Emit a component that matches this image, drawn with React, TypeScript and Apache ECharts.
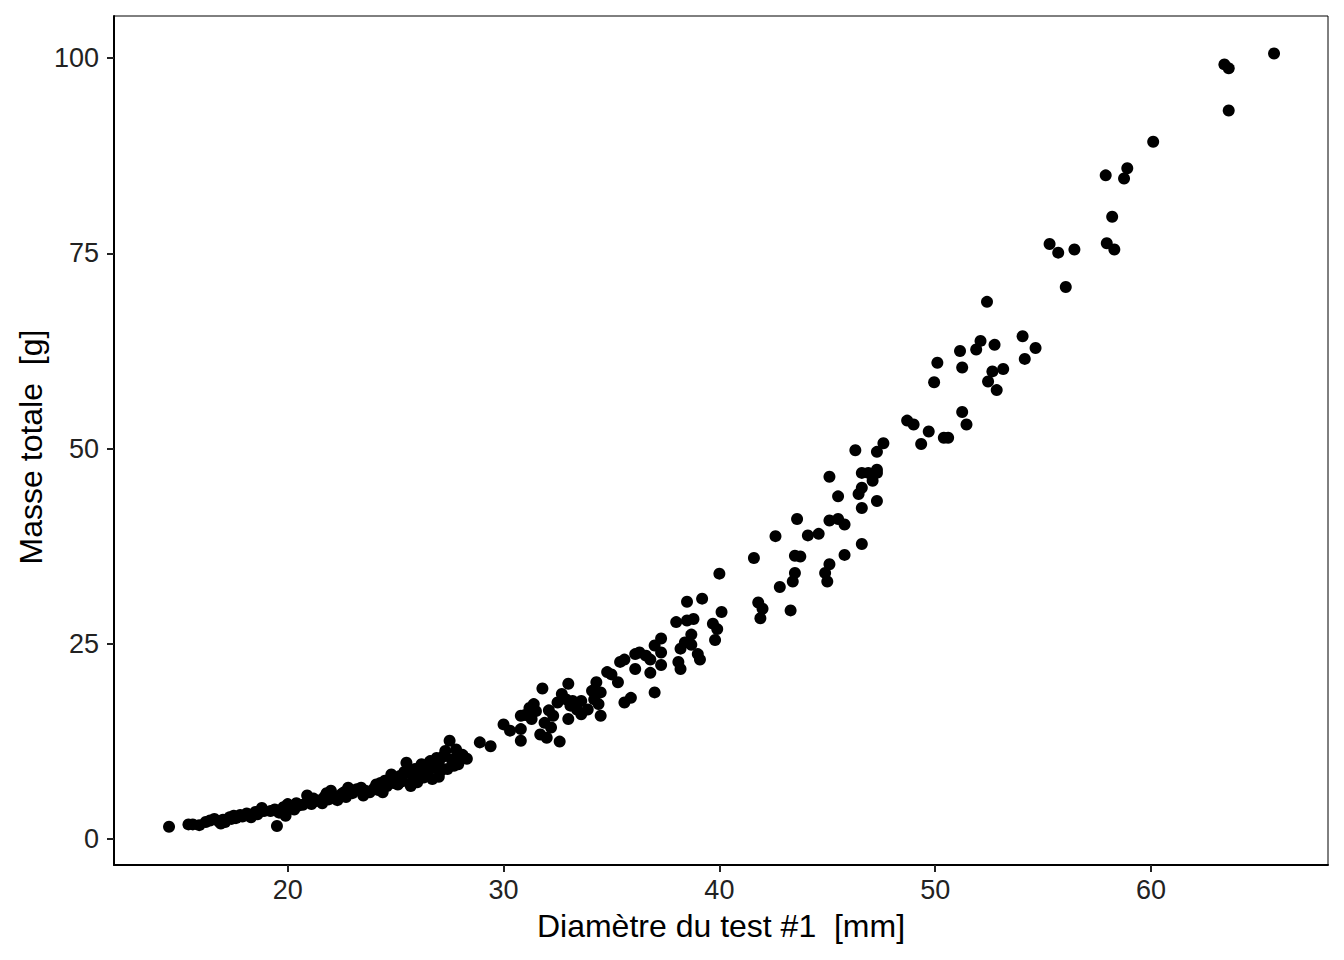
import React, { useEffect, useRef } from "react";
import * as echarts from "echarts";

// Diamètre du test #1 [mm], Masse totale [g]
const smallUrchins: [number, number][] = [
  [14.5, 1.6], [15.4, 1.9], [15.6, 1.9], [15.9, 1.8], [16.2, 2.2], [16.4, 2.4], [16.6, 2.6],
  [16.8, 2.3], [16.9, 2.0], [17.0, 2.5], [17.1, 2.2], [17.3, 2.8], [17.4, 2.6], [17.5, 3.0],
  [17.6, 2.7], [17.8, 3.1], [17.9, 2.9], [18.1, 3.3], [18.2, 3.0], [18.3, 2.8], [18.5, 3.5],
  [18.6, 3.2], [18.8, 4.0], [18.9, 3.6], [19.2, 3.6], [19.4, 3.8], [19.5, 1.7], [19.6, 3.4],
  [19.8, 4.1], [19.9, 3.0], [20.0, 4.5], [20.1, 4.2], [20.3, 3.8], [20.4, 4.6], [20.5, 4.3],
];

const mediumUrchins: [number, number][] = [
  [20.7, 4.4], [20.9, 5.6], [21.0, 4.8], [21.1, 4.5], [21.2, 5.2], [21.3, 4.9], [21.5, 5.0],
  [21.6, 4.6], [21.7, 5.4], [21.8, 5.9], [21.9, 5.1], [22.0, 6.2], [22.1, 5.6], [22.2, 5.3],
  [22.3, 5.0], [22.5, 5.8], [22.6, 6.0], [22.7, 5.4], [22.8, 6.6], [22.9, 6.3], [23.0, 5.9],
  [23.2, 6.4], [23.4, 6.6], [23.5, 5.6], [23.6, 6.2], [23.8, 6.0], [24.0, 6.5], [24.1, 7.0],
  [24.2, 6.3], [24.3, 7.2], [24.4, 6.0], [24.5, 7.5], [24.6, 6.8], [24.8, 8.3], [24.9, 7.2],
  [25.0, 7.8], [25.1, 7.0], [25.2, 8.1], [25.3, 7.4], [25.4, 8.6], [25.5, 9.8], [25.6, 8.5],
  [25.7, 6.8], [25.8, 7.6], [25.9, 9.0], [26.0, 8.2], [26.0, 7.3], [26.1, 8.8], [26.2, 9.6],
  [26.3, 7.9], [26.4, 9.4], [26.5, 8.6], [26.6, 10.0], [26.7, 7.7], [26.8, 9.2], [26.9, 10.4],
  [27.0, 9.8], [27.0, 8.0], [27.1, 8.8], [27.2, 10.6], [27.3, 11.3], [27.4, 9.0], [27.5, 12.6],
  [27.6, 10.2], [27.7, 9.4], [27.8, 11.5], [27.9, 9.6], [28.0, 10.5], [28.1, 10.8], [28.3, 10.3],
  [28.9, 12.4], [29.4, 11.9],
];

const largeUrchins: [number, number][] = [
  [30.0, 14.7], [30.3, 13.9], [30.8, 15.8], [31.0, 15.9], [30.8, 14.1], [30.8, 12.6], [31.2, 16.8],
  [31.4, 17.3], [31.5, 16.4], [31.3, 15.4], [31.7, 13.4], [31.9, 14.9], [32.0, 13.0], [32.2, 14.3],
  [32.1, 16.5], [32.3, 15.8], [31.8, 19.3], [32.6, 12.5], [32.5, 17.5], [32.7, 18.6], [32.9, 17.9],
  [33.0, 19.9], [33.0, 15.4], [33.1, 17.1], [33.2, 17.7], [33.4, 16.6], [33.6, 17.7], [33.6, 16.0],
  [33.9, 16.6], [34.1, 19.0], [34.2, 17.9], [34.3, 20.1], [34.4, 17.3], [34.5, 18.8], [34.5, 15.8],
  [34.8, 21.4], [35.0, 21.1], [35.3, 20.1], [35.4, 22.7], [35.6, 23.0], [35.6, 17.5], [35.9, 18.1],
  [36.1, 21.8], [36.1, 23.7], [36.3, 23.9], [36.6, 23.5], [36.8, 23.0], [36.8, 21.3], [37.0, 24.8],
  [37.0, 18.8], [37.3, 23.9], [37.3, 25.7], [37.3, 22.3], [38.0, 27.8], [38.1, 22.7], [38.2, 24.4],
  [38.2, 21.8], [38.4, 25.2], [38.5, 28.0], [38.5, 30.4], [38.7, 26.2], [38.7, 24.9], [38.8, 28.2],
  [39.0, 23.7], [39.1, 23.0], [39.2, 30.8], [39.7, 27.6], [39.8, 25.5], [39.9, 26.9], [40.0, 34.0],
  [40.1, 29.1],
];

const veryLargeUrchins: [number, number][] = [
  [41.6, 36.0], [41.8, 30.3], [42.0, 29.5], [41.9, 28.3], [42.6, 38.8], [42.8, 32.3], [43.3, 29.3],
  [43.4, 33.0], [43.5, 34.1], [43.5, 36.3], [43.75, 36.2], [43.6, 41.0], [44.1, 38.9], [44.6, 39.1],
  [44.9, 34.1], [45.0, 33.0], [45.1, 35.2], [45.1, 40.8], [45.1, 46.4], [45.5, 41.0], [45.5, 43.9],
  [45.8, 40.3], [45.8, 36.4], [46.3, 49.8], [46.45, 44.2], [46.6, 45.0], [46.6, 46.9], [46.6, 42.4],
  [46.6, 37.8], [46.9, 46.9], [47.1, 45.9], [47.3, 47.3], [47.3, 49.6], [47.3, 46.9], [47.3, 43.3],
  [47.6, 50.7],
  [48.7, 53.6], [49.0, 53.1], [49.35, 50.6], [49.7, 52.2], [49.95, 58.5], [50.1, 61.0], [50.4, 51.4],
  [50.6, 51.4], [51.15, 62.5], [51.25, 60.4], [51.25, 54.7], [51.45, 53.1], [51.9, 62.7], [52.1, 63.8],
  [52.4, 68.8], [52.45, 58.6], [52.65, 59.9], [52.75, 63.3], [52.85, 57.5], [53.15, 60.2], [54.05, 64.4],
  [54.15, 61.5], [54.65, 62.9],
  [55.3, 76.2], [55.7, 75.1], [56.05, 70.7], [56.45, 75.5], [57.9, 85.0], [57.95, 76.3], [58.2, 79.7],
  [58.3, 75.5], [58.75, 84.6], [58.9, 85.9], [60.1, 89.3], [63.4, 99.2], [63.6, 98.7], [63.6, 93.3],
  [65.7, 100.6],
];

const xTicks = [20, 30, 40, 50, 60];
const yTicks = [0, 25, 50, 75, 100];
const xTitle = "Diamètre du test #1  [mm]";
const yTitle = "Masse totale  [g]";

const FONT = "'Liberation Sans', Arial, Helvetica, sans-serif";

export default function App() {
  const ref = useRef<HTMLDivElement>(null);
  useEffect(() => {
    if (!ref.current) return;
    const chart = echarts.init(ref.current, undefined, { renderer: "svg" });
    const points = [...smallUrchins, ...mediumUrchins, ...largeUrchins, ...veryLargeUrchins];
    chart.setOption({
      animation: false,
      backgroundColor: "#fff",
      grid: {
        left: 114,
        right: 16,
        top: 16,
        bottom: 95,
        show: true,
        borderColor: "#000",
        borderWidth: 1,
        backgroundColor: "transparent",
      },
      graphic: [
        {
          type: "text",
          x: 721,
          y: 926,
          style: {
            text: xTitle,
            fontSize: 32,
            fontFamily: FONT,
            fill: "#000",
            textAlign: "center",
            textVerticalAlign: "middle",
          },
        },
        {
          type: "text",
          x: 31,
          y: 447,
          rotation: Math.PI / 2,
          style: {
            text: yTitle,
            fontSize: 32,
            fontFamily: FONT,
            fill: "#000",
            textAlign: "center",
            textVerticalAlign: "middle",
          },
        },
      ],
      xAxis: {
        type: "value",
        min: 11.95,
        max: 68.2,
        axisLine: { show: true, onZero: false, lineStyle: { color: "#000", width: 2 } },
        axisTick: { show: true, length: 7, customValues: xTicks, lineStyle: { color: "#222", width: 2 } },
        axisLabel: { customValues: xTicks, fontSize: 27, color: "#222", margin: 11, fontFamily: FONT },
        splitLine: { show: false },
      },
      yAxis: {
        type: "value",
        min: -3.3,
        max: 105.4,
        axisLine: { show: true, onZero: false, lineStyle: { color: "#000", width: 2 } },
        axisTick: { show: true, length: 7, customValues: yTicks, lineStyle: { color: "#222", width: 2 } },
        axisLabel: { customValues: yTicks, fontSize: 27, color: "#222", margin: 15, fontFamily: FONT },
        splitLine: { show: false },
      },
      series: [
        {
          type: "scatter",
          data: points,
          symbol: "circle",
          symbolSize: 12,
          itemStyle: { color: "#000", opacity: 1 },
        },
      ],
    });
    return () => chart.dispose();
  }, []);
  return (
    <div
      ref={ref}
      style={{ position: "fixed", left: 0, top: 0, width: 1344, height: 960, background: "#fff" }}
    />
  );
}
